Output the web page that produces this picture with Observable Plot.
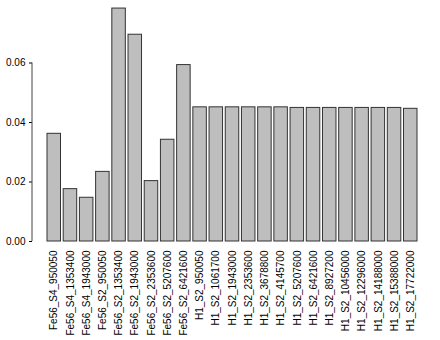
<!DOCTYPE html>
<html><head><meta charset="utf-8">
<script src="https://cdn.jsdelivr.net/npm/d3@7"></script>
<script src="https://cdn.jsdelivr.net/npm/@observablehq/plot@0.6"></script>
<style>body{margin:0;background:#fff}</style>
</head><body><div id="chart"></div>
<script>
const samples = [
  "Fe56_S4_950050", "Fe56_S4_1353400", "Fe56_S4_1943000",
  "Fe56_S2_950050", "Fe56_S2_1353400", "Fe56_S2_1943000",
  "Fe56_S2_2353600", "Fe56_S2_5207600", "Fe56_S2_6421600",
  "H1_S2_950050", "H1_S2_1061700", "H1_S2_1943000", "H1_S2_2353600",
  "H1_S2_3678800", "H1_S2_4145700", "H1_S2_5207600", "H1_S2_6421600",
  "H1_S2_8927200", "H1_S2_10456000", "H1_S2_12296000", "H1_S2_14188000",
  "H1_S2_15388000", "H1_S2_17722000"
];
const values = [
  0.0362, 0.0176, 0.0147,
  0.0234, 0.0783, 0.0695,
  0.0203, 0.0342, 0.0593,
  0.0451, 0.0451, 0.0451, 0.0451,
  0.0451, 0.0451, 0.0449, 0.0449,
  0.0449, 0.0449, 0.0449, 0.0449,
  0.0449, 0.0446
];
const yTicks = [0, 0.02, 0.04, 0.06];

const data = samples.map((s, i) => ({sample: s, value: values[i]}));

// R-style y axis line spanning only the tick range
const yAxisLine = (index, scales, vals, dimensions) => {
  const x0 = dimensions.marginLeft;
  const line = d3.create("svg:line")
    .attr("x1", x0).attr("x2", x0)
    .attr("y1", scales.y(yTicks[0])).attr("y2", scales.y(yTicks[yTicks.length - 1]))
    .attr("stroke", "#444").attr("stroke-width", 1);
  return line.node();
};

const chart = Plot.plot({
  width: 440,
  height: 340,
  marginLeft: 32,
  marginRight: 23,
  marginTop: 3,
  marginBottom: 99,
  style: {fontFamily: "'Liberation Sans', Arial, Helvetica, sans-serif", fontSize: "10px", background: "#fff", color: "#000"},
  x: {domain: samples, paddingInner: 0.167, paddingOuter: 0, insetLeft: 15, round: false, label: null},
  y: {domain: [0, 0.08], label: null},
  marks: [
    Plot.barY(data, {x: "sample", y: "value", fill: "#bebebe", stroke: "#333", strokeWidth: 1}),
    Plot.axisY(yTicks, {tickSize: 3, tickPadding: 4, tickFormat: d3.format(".2f"), label: null}),
    Plot.axisX({tickSize: 0, tickRotate: -90, tickPadding: 9, label: null}),
    yAxisLine
  ]
});
document.getElementById("chart").appendChild(chart);
</script>
</body></html>
